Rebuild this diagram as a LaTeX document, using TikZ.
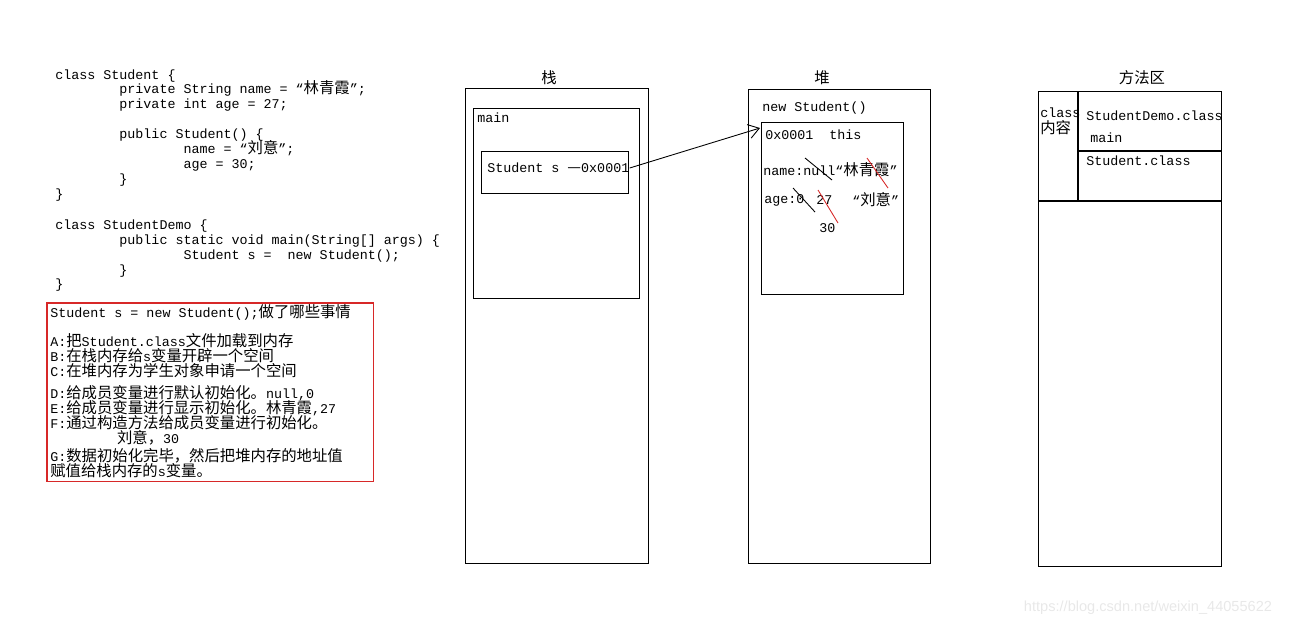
\documentclass[tikz,border=0pt]{standalone}
\usepackage{fontspec}
\setmonofont{Liberation Mono}
\newfontfamily\cjk[Scale=1.15]{Noto Sans CJK SC}
\newfontfamily\wmfont{Liberation Sans}
\newcommand{\zh}[1]{{\cjk #1}}
\usetikzlibrary{arrows.meta}
\definecolor{boxred}{RGB}{215,40,40}
\setlength{\lineskiplimit}{-20pt}

\begin{document}
\begin{tikzpicture}[x=0.02cm, y=-0.02cm,
    every node/.style={font=\ttfamily\fontsize{7.6}{8.5}\selectfont, inner sep=0pt},
    txt/.style={anchor=west, align=left},
    block/.style={anchor=north west, align=left},
    box/.style={draw, line width=0.6pt, anchor=north west},
    ptr/.style={line width=0.5pt, -{Straight Barb[length=6pt,width=8pt]}},
    strike/.style={line width=0.5pt}]
    \useasboundingbox (0,0) rectangle (1293,627);

    \node[block] (code) at (55,69) {class Student \{\\
        \hspace*{4.8em}private String name = “\zh{林青霞}”;\\
        \hspace*{4.8em}private int age = 27;\\[8.5pt]
        \hspace*{4.8em}public Student() \{\\
        \hspace*{9.6em}name = “\zh{刘意}”;\\
        \hspace*{9.6em}age = 30;\\
        \hspace*{4.8em}\}\\
        \}\\[9pt]
        class StudentDemo \{\\
        \hspace*{4.8em}public static void main(String[] args) \{\\
        \hspace*{9.6em}Student s =\ \ new Student();\\
        \hspace*{4.8em}\}\\
        \}};

    \node[anchor=north west, minimum width=6.52cm, minimum height=3.56cm] (steps) at (47,303) {};
    \draw[boxred, line width=0.9pt] (steps.north west) rectangle (steps.south east);
    \node[block] (stepstxt) at (50,304.5) {Student s = new Student();\zh{做了哪些事情}\\[7.9pt]
        A:\zh{把}Student.class\zh{文件加载到内存}\\
        B:\zh{在栈内存给}s\zh{变量开辟一个空间}\\
        C:\zh{在堆内存为学生对象申请一个空间}\\[4pt]
        D:\zh{给成员变量进行默认初始化。}null,0\\
        E:\zh{给成员变量进行显示初始化。林青霞},27\\
        F:\zh{通过构造方法给成员变量进行初始化。}\\
        \hspace*{5em}\zh{刘意，}30\\[1.7pt]
        G:\zh{数据初始化完毕，然后把堆内存的地址值}\\
        \zh{赋值给栈内存的}s\zh{变量。}};

    \node (stacklbl) at (549,78) {\zh{栈}};
    \node[box, minimum width=3.66cm, minimum height=9.5cm] (stack) at (465,88) {};
    \node[box, minimum width=3.32cm, minimum height=3.8cm] (mainframe) at (473,108) {};
    \node[txt] (mainlbl) at (477,118) {main};
    \node[box, minimum width=2.94cm, minimum height=0.84cm] (varbox) at (481,151) {};
    \node[txt] (sref) at (487,168) {Student s \zh{—}0x0001};

    \node (heaplbl) at (822,78) {\zh{堆}};
    \node[box, minimum width=3.64cm, minimum height=9.48cm] (heap) at (748,89) {};
    \node[txt] (newlbl) at (762,108) {new Student()};
    \node[box, minimum width=2.84cm, minimum height=3.44cm] (obj) at (761,122) {};
    \node[txt] (addr) at (765,135) {0x0001\ \ this};
    \node[txt] (namefld) at (763,170) {name:null“\zh{林青霞}”};
    \node[txt] (agefld) at (764,200) {age:0};
    \node[txt] (age27) at (816,200) {27};
    \node[txt] (name2) at (852,200) {“\zh{刘意}”};
    \node[txt] (age30) at (819,228) {30};
    \coordinate (objtip) at (760,128);
    \draw[ptr] (sref.east) -- (objtip);

    \draw[strike] (805,158) -- (832,180);
    \draw[strike] (793,188) -- (815,212);
    \draw[strike, boxred] (867,158) -- (888,188);
    \draw[strike, boxred] (818,190) -- (838,223);

    \node (methodlbl) at (1142,78) {\zh{方法区}};
    \node[box, minimum width=3.66cm, minimum height=9.5cm] (method) at (1038,91) {};
    \draw[line width=0.6pt] (1078,91) -- (1078,202);
    \draw[line width=0.6pt] (1038,201) -- (1221,201);
    \draw[line width=0.6pt] (1078,151) -- (1221,151);
    \node[txt] (classlbl) at (1040,113) {class};
    \node[txt] (contentlbl) at (1040,128) {\zh{内容}};
    \node[txt] (democls) at (1086,116) {StudentDemo.class};
    \node[txt] (mainmth) at (1090,138) {main};
    \node[txt] (stucls) at (1086,161) {Student.class};

    \node[font=\wmfont\fontsize{8.3}{9}\selectfont, text=gray!18] (mark) at (1148,608) {https://blog.csdn.net/weixin\_44055622};
\end{tikzpicture}
\end{document}
